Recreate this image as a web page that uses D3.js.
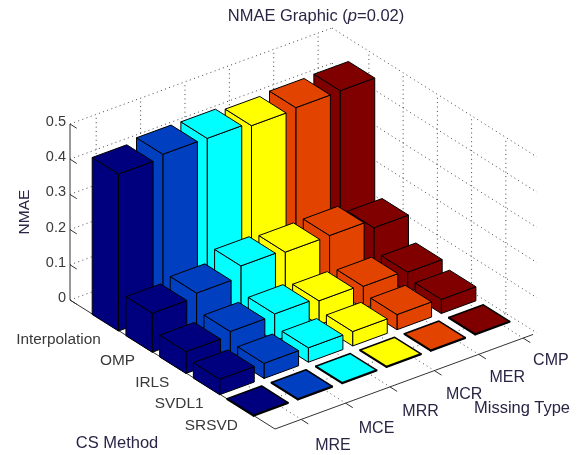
<!DOCTYPE html>
<html><head><meta charset="utf-8">
<script src="https://d3js.org/d3.v7.min.js"></script>
<style>html,body{margin:0;padding:0;background:#fff}svg{display:block;filter:blur(.35px)}text{font-family:"Liberation Sans",Arial,sans-serif;fill:#3a3a3a}text.lab{fill:#2a2545}</style>
</head><body><svg id="c" width="581" height="455"></svg>
<script>
const csMethods = ["Interpolation","OMP","IRLS","SVDL1","SRSVD"];
const missingTypes = ["MRE","MCE","MRR","MCR","MER","CMP"];
const zTicks = [0,0.1,0.2,0.3,0.4,0.5];
const interpolation = [0.446,0.456,0.455,0.445,0.45,0.452];
const omp = [0.111,0.122,0.153,0.146,0.147,0.123];
const irls = [0.062,0.073,0.077,0.068,0.063,0.057];
const svdl1 = [0.044,0.043,0.041,0.041,0.043,0.04];
const srsvd = [0.002,0.002,0.002,0.002,0.002,0.002];
const rows = [interpolation,omp,irls,svdl1,srsvd];
const colors = ["#00007f","#0040c0","#00ffff","#ffff00","#e24400","#800000"];

const L=[70,300],F=[275,429],R=[537,333];
const cScale=d3.scaleLinear().domain([0,4]).range([.175,.833]);
const mScale=d3.scaleLinear().domain([0,5]).range([.064,.91]);
const cTick=d3.scaleLinear().domain([0,4]).range([.18,.848]);
const mTick=d3.scaleLinear().domain([0,5]).range([.1,.947]);
const zScale=d3.scaleLinear().domain([0,.5]).range([0,176]);
const pf=(fc,fm,z)=>[L[0]+fc*(F[0]-L[0])+fm*(R[0]-F[0]), L[1]+fc*(F[1]-L[1])+fm*(R[1]-F[1])-zScale(z)];
const bar=(c,m,z)=>pf(cScale(c),mScale(m),z);
const svg=d3.select("#c");
const line=d3.line();
const GRID={stroke:"#444","stroke-width":1,"stroke-dasharray":"1 3.4",fill:"none"};
function seg(g,a,b,st){const p=g.append("path").attr("d",line([a,b]));Object.entries(st).forEach(([k,v])=>p.attr(k,v));return p;}
const grid=svg.append("g");
zTicks.forEach(z=>{
  seg(grid,pf(0,0,z),pf(0,1,z),GRID);
  seg(grid,pf(0,1,z),pf(1,1,z),GRID);
});
missingTypes.forEach((t,j)=>{
  const f=mTick(j);
  seg(grid,pf(0,f,0),pf(0,f,.5),GRID);
  seg(grid,pf(0,f,0),pf(1,f,0),GRID);
});
csMethods.forEach((t,i)=>{
  const f=cTick(i);
  seg(grid,pf(f,1,0),pf(f,1,.5),GRID);
  seg(grid,pf(f,0,0),pf(f,1,0),GRID);
});
const AX={stroke:"#333","stroke-width":1,fill:"none"};
const axes=svg.append("g");
seg(axes,pf(0,0,0),pf(0,0,.5),AX);
seg(axes,pf(0,0,0),pf(1,0,0),AX);
seg(axes,pf(1,0,0),pf(1,.985,0),AX);
zTicks.forEach(z=>{
  seg(axes,pf(0,0,z),pf(.033,0,z),AX);
  axes.append("text").attr("x",pf(0,0,z)[0]-4).attr("y",pf(0,0,z)[1]-3).attr("dy","0.35em").attr("text-anchor","end").attr("font-size",14.5).text(z);
});
missingTypes.forEach((t,j)=>{
  const f=mTick(j),a=pf(1,f,0),b=pf(1.035,f,0);
  seg(axes,a,b,AX);
  axes.append("text").attr("class","lab").attr("x",a[0]+14-.8*j).attr("y",a[1]+25-.8*j).attr("dy","0.35em").attr("font-size",16).text(t);
});
csMethods.forEach((t,i)=>{
  const a=pf(cTick(i),0,0);
  axes.append("text").attr("x",a[0]-6).attr("y",a[1]+15).attr("dy","0.35em").attr("text-anchor","end").attr("font-size",15.4).text(t);
});
const w=.39;
const bars=svg.append("g");
csMethods.forEach((cs,i)=>{
  for(let j=missingTypes.length-1;j>=0;j--){
    const v=rows[i][j],col=colors[j];
    const fb=(dc,dm,z)=>bar(i+dc,j+dm,z);
    const sw=v<.01?1.5:1;
    const faces=[
      [fb(w,-w,0),fb(w,w,0),fb(w,w,v),fb(w,-w,v)],
      [fb(-w,-w,0),fb(w,-w,0),fb(w,-w,v),fb(-w,-w,v)],
      [fb(-w,-w,v),fb(w,-w,v),fb(w,w,v),fb(-w,w,v)]
    ];
    faces.forEach(p=>bars.append("path").attr("d",line(p)+"Z").attr("fill",col).attr("stroke","#000").attr("stroke-width",sw).attr("stroke-linejoin","round"));
  }
});
const title=svg.append("text").attr("class","lab").attr("x",316).attr("y",21).attr("text-anchor","middle").attr("font-size",16.5);
title.append("tspan").text("NMAE Graphic (");
title.append("tspan").attr("font-style","italic").text("p");
title.append("tspan").text("=0.02)");
svg.append("text").attr("class","lab").attr("transform","translate(29,212) rotate(-90)").attr("text-anchor","middle").attr("font-size",15.5).text("NMAE");
svg.append("text").attr("class","lab").attr("x",117).attr("y",448).attr("text-anchor","middle").attr("font-size",16.5).text("CS Method");
svg.append("text").attr("class","lab").attr("x",522).attr("y",413).attr("text-anchor","middle").attr("font-size",16.5).text("Missing Type");
</script></body></html>
